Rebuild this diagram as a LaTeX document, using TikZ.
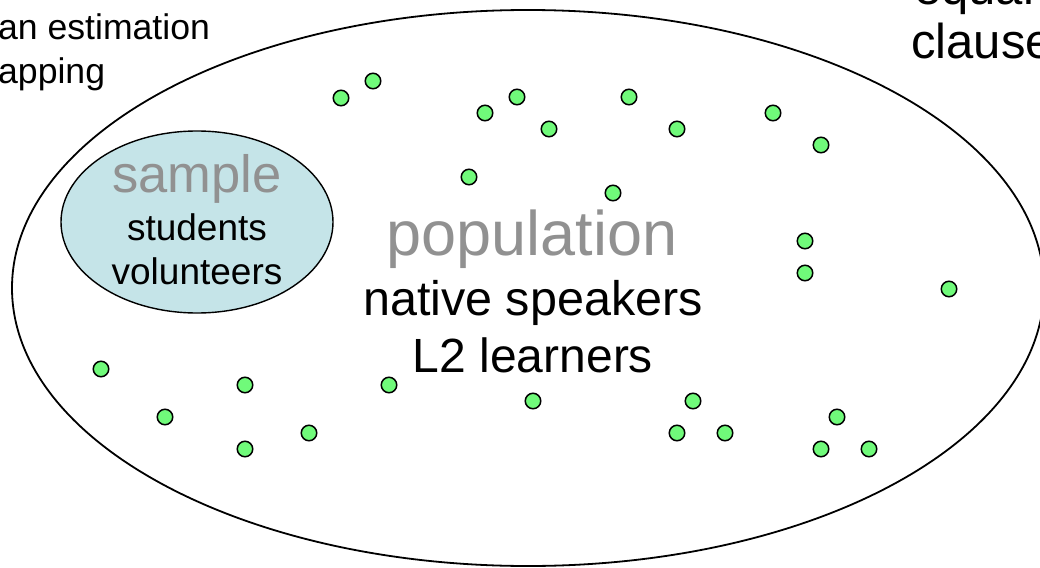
\documentclass[tikz,border=0pt]{standalone}
\usepackage{fontspec}
\setmainfont{Liberation Sans}
\definecolor{dotgreen}{RGB}{112,250,122}
\definecolor{samplefill}{RGB}{197,228,232}
\definecolor{titlegray}{RGB}{145,145,145}
\tikzset{
  label text/.style={inner sep=0pt, anchor=base},
  dot/.style={circle, draw=black, line width=1.5pt, fill=dotgreen, minimum size=15.5pt, inner sep=0pt},
  set outline/.style={draw=black, line width=1.8pt},
}
\begin{document}
\begin{tikzpicture}[x=1pt, y=-1pt]
  \useasboundingbox (0,0) rectangle (1040,567);
  \clip (0,0) rectangle (1040,567);

  % population and sample sets
  \draw[set outline] (528,288) ellipse [x radius=516, y radius=278];
  \draw[set outline, fill=samplefill, line width=1.4pt] (197,222) ellipse [x radius=136, y radius=91];

  % scattered members of the population
  \foreach \px/\py [count=\i] in {341/98, 373/81, 485/113, 517/97, 549/129, 629/97, 677/129,
      773/113, 821/145, 469/177, 613/193, 805/241, 805/273, 949/289, 101/369, 245/385,
      389/385, 165/417, 245/449, 309/433, 533/401, 693/401, 677/433, 725/433, 837/417,
      821/449, 869/449}
    \node[dot] (dot-\i) at (\px,\py) {};

  % population labels
  \node[label text, text=titlegray, font=\fontsize{63}{70}\selectfont] (poptitle) at (532,255) {population};
  \node[label text, font=\fontsize{48.5}{58}\selectfont] (popline1) at (533,315) {native speakers};
  \node[label text, font=\fontsize{48}{58}\selectfont] (popline2) at (533,372) {L2 learners};

  % sample labels
  \node[label text, text=titlegray, font=\fontsize{52.5}{60}\selectfont] (samtitle) at (197,192) {sample};
  \node[label text, font=\fontsize{37}{44}\selectfont] (samline1) at (197,240) {students};
  \node[label text, font=\fontsize{37}{44}\selectfont] (samline2) at (197,284) {volunteers};

  % side captions
  \node[label text, anchor=base west, font=\fontsize{35.6}{42}\selectfont] (capleft1) at (-2,40) {an estimation};
  \node[label text, anchor=base west, font=\fontsize{35.6}{42}\selectfont] (capleft2) at (-2,84) {apping};
  \node[label text, anchor=base west, font=\fontsize{49}{56}\selectfont] (capright1) at (914,5) {equal};
  \node[label text, anchor=base west, font=\fontsize{49}{56}\selectfont] (capright2) at (911,59) {clause};
\end{tikzpicture}
\end{document}
